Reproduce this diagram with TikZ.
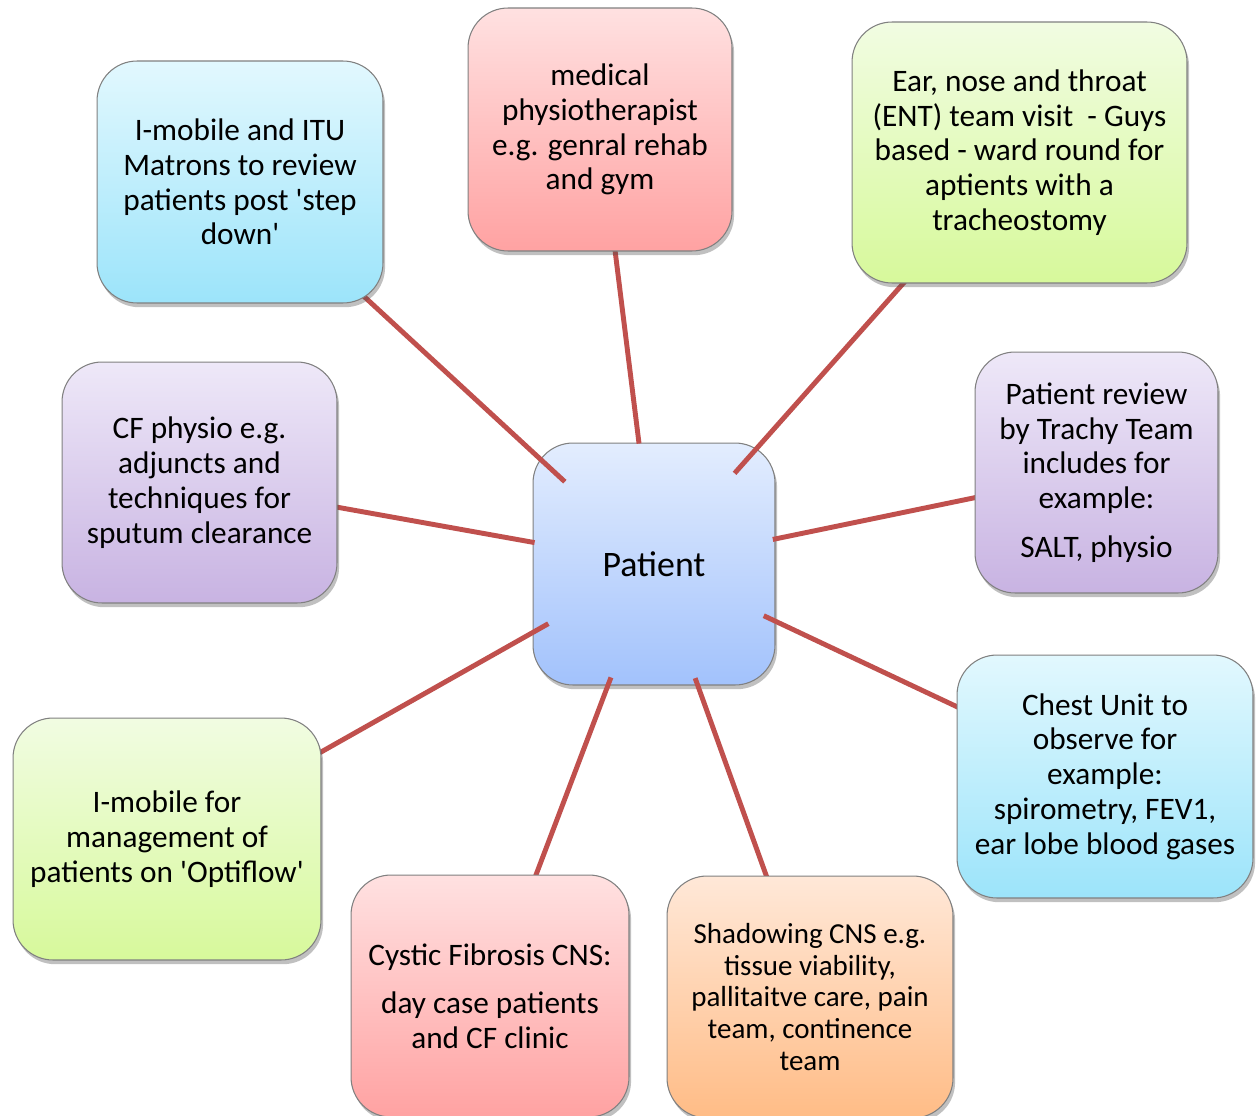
\documentclass[tikz,border=0pt]{standalone}
\usepackage{fontspec}
\setmainfont{Carlito}[Ligatures=TeXOff]
\usetikzlibrary{shadows}
\definecolor{linkred}{HTML}{C0504D}
\definecolor{blueT}{HTML}{E2F8FE}\definecolor{blueB}{HTML}{9CE4FA}
\definecolor{redT}{HTML}{FFE1E1}\definecolor{redB}{HTML}{FFA2A2}
\definecolor{greenT}{HTML}{F1FCE2}\definecolor{greenB}{HTML}{D7F99B}
\definecolor{purpT}{HTML}{EEE8F8}\definecolor{purpB}{HTML}{C8B3E2}
\definecolor{orT}{HTML}{FFE8D8}\definecolor{orB}{HTML}{FFBC86}
\definecolor{patT}{HTML}{E3EDFE}\definecolor{patB}{HTML}{A2C2FC}
\tikzset{
  boxbase/.style={rectangle, rounded corners=0.8cm, draw=black!50, line width=0.6pt,
    align=center, inner sep=0pt, font=\fontsize{17.8}{19.8}\selectfont,
    drop shadow={shadow xshift=1.2pt, shadow yshift=-2.4pt, opacity=0.35, fill=black!70}},
  bluebox/.style={boxbase, top color=blueT, bottom color=blueB},
  redbox/.style={boxbase, top color=redT, bottom color=redB},
  greenbox/.style={boxbase, top color=greenT, bottom color=greenB},
  purpbox/.style={boxbase, top color=purpT, bottom color=purpB},
  orbox/.style={boxbase, top color=orT, bottom color=orB},
  patbox/.style={boxbase, top color=patT, bottom color=patB, font=\fontsize{20.4}{24}\selectfont},
  link/.style={draw=linkred, line width=2.8pt},
  hub/.style={circle, minimum size=4.84cm, inner sep=0pt, draw=none}
}
\begin{document}
\begin{tikzpicture}[x=0.02cm, y=-0.02cm]
\clip (0,0) rectangle (1256,1115);
\fill[white] (0,0) rectangle (1256,1115);
% centre
\node[patbox, minimum width=4.84cm, minimum height=4.84cm] (pat) at (654,564) {Patient};
\node[hub] (pc) at (654,564) {};
% outer boxes positions (drawn after the links)
\path
  (240,182) coordinate (citu)
  (600,129.5) coordinate (cmed)
  (1019.5,152.5) coordinate (cent)
  (1096.5,472.5) coordinate (crev)
  (1105,776.5) coordinate (cchest)
  (810,997) coordinate (cshad)
  (490,996) coordinate (ccfcns)
  (167,839) coordinate (cimob)
  (199.5,482.5) coordinate (ccfp);
% links
\draw[link] (pc) -- (citu);
\draw[link] (pc) -- (cmed);
\draw[link] (pc) -- (cent);
\draw[link] (pc) -- (crev);
\draw[link] (pc) -- (cchest);
\draw[link] (pc) -- (cshad);
\draw[link] (pc) -- (ccfcns);
\draw[link] (pc) -- (cimob);
\draw[link] (pc) -- (ccfp);
% outer boxes
\node[bluebox, minimum width=5.72cm, minimum height=4.84cm] (itu) at (citu)
  {I-mobile and ITU\\ Matrons to review\\ patients post 'step\\ down'};
\node[redbox, minimum width=5.28cm, minimum height=4.86cm] (med) at (cmed)
  {medical\\ physiotherapist\\ e.g. genral rehab\\ and gym};
\node[greenbox, minimum width=6.7cm, minimum height=5.22cm] (ent) at (cent)
  {Ear, nose and throat\\ (ENT) team visit~ - Guys\\ based - ward round for\\ aptients with a\\ tracheostomy};
\node[purpbox, minimum width=4.86cm, minimum height=4.82cm] (rev) at (crev)
  {Patient review\\ by Trachy Team\\ includes for\\ example:\\[7.9pt] SALT, physio};
\node[bluebox, minimum width=5.92cm, minimum height=4.86cm] (chest) at (cchest)
  {Chest Unit to\\ observe for\\ example:\\ spirometry, FEV1,\\ ear lobe blood gases};
\node[orbox, minimum width=5.72cm, minimum height=4.84cm, font=\fontsize{16.5}{18.1}\selectfont] (shad) at (cshad)
  {Shadowing CNS e.g.\\ tissue viability,\\ pallitaitve care, pain\\ team, continence\\ team};
\node[redbox, minimum width=5.56cm, minimum height=4.84cm] (cfcns) at (ccfcns)
  {Cystic Fibrosis CNS:\\[7.9pt] day case patients\\ and CF clinic};
\node[greenbox, minimum width=6.16cm, minimum height=4.84cm] (imob) at (cimob)
  {I-mobile for\\ management of\\ patients on 'Optiflow'};
\node[purpbox, minimum width=5.5cm, minimum height=4.82cm] (cfp) at (ccfp)
  {CF physio e.g.\\ adjuncts and\\ techniques for\\ sputum clearance};
\end{tikzpicture}
\end{document}
